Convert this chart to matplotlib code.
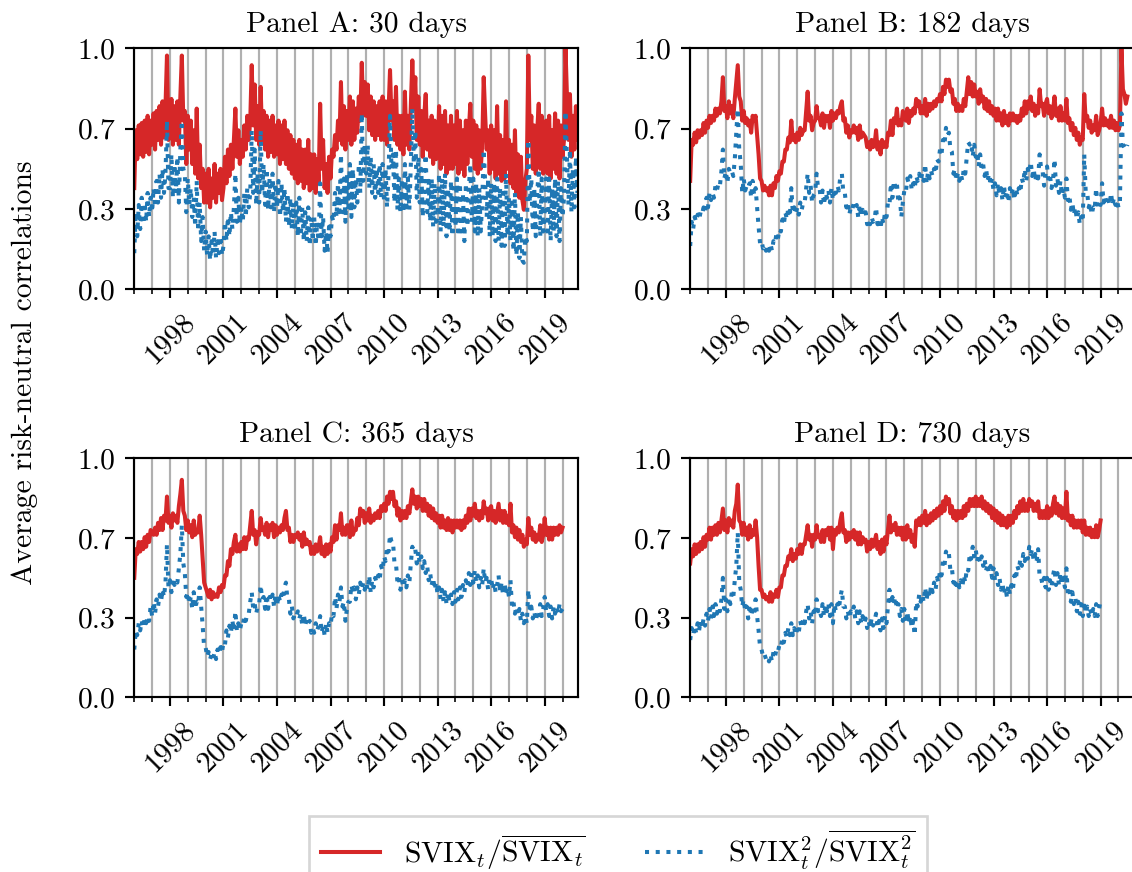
import matplotlib
matplotlib.use("Agg")
import matplotlib.pyplot as plt
import numpy as np
from matplotlib.ticker import FormatStrFormatter

# monthly readings, first value = January 1996, one row per year
svix_30 = [
    0.42, 0.66, 0.54, 0.68, 0.56, 0.69, 0.55, 0.70, 0.57, 0.72, 0.56, 0.70,
    0.60, 0.73, 0.58, 0.74, 0.62, 0.76, 0.60, 0.78, 0.63, 0.76, 0.97, 0.62,
    0.64, 0.79, 0.60, 0.76, 0.62, 0.78, 0.60, 0.80, 0.97, 0.70, 0.74, 0.52,
    0.72, 0.58, 0.70, 0.52, 0.66, 0.48, 0.75, 0.46, 0.60, 0.42, 0.50, 0.36,
    0.48, 0.36, 0.50, 0.34, 0.46, 0.38, 0.52, 0.36, 0.48, 0.40, 0.50, 0.37,
    0.42, 0.55, 0.44, 0.58, 0.47, 0.60, 0.50, 0.62, 0.75, 0.55, 0.66, 0.52,
    0.62, 0.55, 0.68, 0.58, 0.72, 0.62, 0.70, 0.93, 0.68, 0.85, 0.62, 0.76,
    0.60, 0.84, 0.62, 0.74, 0.58, 0.72, 0.55, 0.70, 0.57, 0.72, 0.55, 0.68,
    0.56, 0.70, 0.52, 0.68, 0.54, 0.70, 0.52, 0.66, 0.50, 0.64, 0.48, 0.62,
    0.46, 0.60, 0.44, 0.62, 0.45, 0.58, 0.42, 0.58, 0.44, 0.62, 0.41, 0.56,
    0.42, 0.56, 0.40, 0.54, 0.44, 0.77, 0.50, 0.62, 0.42, 0.52, 0.40, 0.55,
    0.46, 0.58, 0.55, 0.64, 0.58, 0.70, 0.62, 0.86, 0.60, 0.76, 0.58, 0.74,
    0.62, 0.80, 0.60, 0.78, 0.62, 0.75, 0.65, 0.80, 0.70, 0.94, 0.72, 0.86,
    0.72, 0.85, 0.66, 0.80, 0.64, 0.78, 0.62, 0.76, 0.64, 0.78, 0.62, 0.80,
    0.62, 0.78, 0.60, 0.74, 0.91, 0.70, 0.78, 0.62, 0.84, 0.60, 0.72, 0.58,
    0.72, 0.56, 0.82, 0.60, 0.72, 0.58, 0.76, 0.95, 0.75, 0.88, 0.62, 0.80,
    0.60, 0.74, 0.55, 0.72, 0.81, 0.58, 0.70, 0.55, 0.72, 0.52, 0.70, 0.54,
    0.56, 0.76, 0.50, 0.72, 0.52, 0.74, 0.48, 0.68, 0.50, 0.72, 0.50, 0.68,
    0.52, 0.74, 0.48, 0.70, 0.50, 0.66, 0.47, 0.70, 0.52, 0.66, 0.77, 0.55,
    0.70, 0.50, 0.68, 0.48, 0.66, 0.50, 0.60, 0.88, 0.72, 0.58, 0.66, 0.48,
    0.68, 0.50, 0.66, 0.46, 0.76, 0.48, 0.64, 0.45, 0.62, 0.46, 0.78, 0.50,
    0.62, 0.44, 0.60, 0.42, 0.66, 0.40, 0.56, 0.38, 0.55, 0.37, 0.33, 0.45,
    0.50, 0.97, 0.62, 0.72, 0.50, 0.68, 0.48, 0.66, 0.77, 0.50, 0.72, 0.48,
    0.60, 0.70, 0.48, 0.72, 0.46, 0.66, 0.50, 0.73, 0.48, 0.70, 0.46, 0.68,
    0.55, 0.62, 1.00, 0.80, 0.62, 0.81, 0.55, 0.72, 0.58, 0.76, 0.62,
]
svix2_30 = [
    0.15, 0.32, 0.22, 0.35, 0.25, 0.38, 0.27, 0.36, 0.28, 0.40, 0.30, 0.38,
    0.32, 0.42, 0.34, 0.45, 0.36, 0.48, 0.38, 0.50, 0.40, 0.48, 0.70, 0.42,
    0.42, 0.56, 0.38, 0.52, 0.40, 0.55, 0.36, 0.58, 0.70, 0.50, 0.48, 0.32,
    0.46, 0.35, 0.42, 0.30, 0.38, 0.26, 0.45, 0.24, 0.36, 0.20, 0.30, 0.16,
    0.24, 0.14, 0.22, 0.12, 0.20, 0.14, 0.24, 0.13, 0.20, 0.15, 0.22, 0.14,
    0.18, 0.28, 0.20, 0.30, 0.22, 0.32, 0.25, 0.34, 0.48, 0.28, 0.38, 0.27,
    0.34, 0.28, 0.40, 0.30, 0.42, 0.34, 0.40, 0.66, 0.40, 0.58, 0.35, 0.48,
    0.36, 0.66, 0.40, 0.52, 0.35, 0.50, 0.33, 0.46, 0.34, 0.48, 0.32, 0.44,
    0.34, 0.45, 0.30, 0.44, 0.32, 0.42, 0.28, 0.40, 0.26, 0.38, 0.25, 0.36,
    0.24, 0.36, 0.22, 0.38, 0.22, 0.34, 0.20, 0.32, 0.20, 0.34, 0.18, 0.30,
    0.20, 0.30, 0.18, 0.28, 0.20, 0.44, 0.22, 0.30, 0.16, 0.24, 0.15, 0.26,
    0.22, 0.30, 0.28, 0.40, 0.30, 0.44, 0.32, 0.56, 0.32, 0.46, 0.28, 0.48,
    0.34, 0.52, 0.30, 0.50, 0.34, 0.46, 0.36, 0.52, 0.40, 0.73, 0.45, 0.60,
    0.48, 0.60, 0.42, 0.55, 0.40, 0.52, 0.38, 0.50, 0.40, 0.52, 0.38, 0.52,
    0.36, 0.50, 0.34, 0.48, 0.72, 0.50, 0.56, 0.36, 0.58, 0.33, 0.46, 0.32,
    0.46, 0.32, 0.52, 0.34, 0.46, 0.33, 0.52, 0.75, 0.52, 0.66, 0.38, 0.55,
    0.36, 0.50, 0.30, 0.48, 0.56, 0.32, 0.45, 0.28, 0.46, 0.26, 0.44, 0.28,
    0.30, 0.48, 0.24, 0.46, 0.26, 0.48, 0.22, 0.42, 0.24, 0.45, 0.22, 0.42,
    0.26, 0.46, 0.22, 0.44, 0.24, 0.40, 0.20, 0.44, 0.26, 0.42, 0.52, 0.28,
    0.46, 0.24, 0.44, 0.22, 0.42, 0.24, 0.36, 0.58, 0.44, 0.30, 0.46, 0.22,
    0.44, 0.22, 0.44, 0.20, 0.46, 0.20, 0.42, 0.18, 0.40, 0.18, 0.48, 0.22,
    0.38, 0.20, 0.36, 0.16, 0.40, 0.14, 0.32, 0.13, 0.30, 0.12, 0.11, 0.22,
    0.20, 0.62, 0.36, 0.46, 0.24, 0.42, 0.22, 0.40, 0.50, 0.22, 0.46, 0.24,
    0.32, 0.46, 0.22, 0.46, 0.20, 0.42, 0.24, 0.46, 0.22, 0.45, 0.20, 0.42,
    0.30, 0.38, 0.74, 0.55, 0.35, 0.58, 0.32, 0.50, 0.34, 0.55, 0.40,
]

svix_182 = [
    0.45, 0.62, 0.60, 0.65, 0.61, 0.66, 0.63, 0.66, 0.64, 0.69, 0.65, 0.70,
    0.67, 0.72, 0.69, 0.72, 0.70, 0.75, 0.72, 0.75, 0.73, 0.78, 0.88, 0.74,
    0.76, 0.71, 0.78, 0.73, 0.76, 0.71, 0.79, 0.86, 0.93, 0.80, 0.78, 0.70,
    0.74, 0.69, 0.71, 0.68, 0.70, 0.65, 0.72, 0.70, 0.72, 0.64, 0.56, 0.46,
    0.45, 0.41, 0.43, 0.41, 0.42, 0.39, 0.43, 0.39, 0.44, 0.42, 0.47, 0.45,
    0.49, 0.48, 0.53, 0.53, 0.58, 0.58, 0.63, 0.61, 0.70, 0.62, 0.64, 0.61,
    0.65, 0.62, 0.67, 0.64, 0.66, 0.66, 0.74, 0.82, 0.70, 0.72, 0.66, 0.69,
    0.70, 0.76, 0.71, 0.71, 0.68, 0.73, 0.67, 0.72, 0.70, 0.72, 0.67, 0.74,
    0.70, 0.73, 0.71, 0.74, 0.73, 0.76, 0.78, 0.70, 0.71, 0.65, 0.68, 0.63,
    0.66, 0.65, 0.68, 0.65, 0.67, 0.62, 0.68, 0.63, 0.65, 0.64, 0.63, 0.59,
    0.61, 0.58, 0.62, 0.59, 0.60, 0.66, 0.58, 0.61, 0.56, 0.62, 0.59, 0.61,
    0.59, 0.65, 0.64, 0.70, 0.64, 0.71, 0.69, 0.75, 0.68, 0.70, 0.68, 0.74,
    0.72, 0.70, 0.75, 0.69, 0.74, 0.72, 0.75, 0.73, 0.79, 0.76, 0.78, 0.73,
    0.76, 0.73, 0.79, 0.72, 0.77, 0.74, 0.77, 0.75, 0.78, 0.76, 0.79, 0.78,
    0.81, 0.78, 0.84, 0.81, 0.87, 0.84, 0.87, 0.82, 0.83, 0.77, 0.79, 0.74,
    0.77, 0.74, 0.76, 0.74, 0.79, 0.76, 0.82, 0.88, 0.81, 0.86, 0.80, 0.85,
    0.80, 0.82, 0.77, 0.83, 0.78, 0.80, 0.75, 0.79, 0.74, 0.78, 0.73, 0.76,
    0.72, 0.75, 0.70, 0.75, 0.70, 0.73, 0.68, 0.74, 0.69, 0.72, 0.68, 0.73,
    0.70, 0.73, 0.70, 0.72, 0.69, 0.72, 0.70, 0.75, 0.72, 0.78, 0.73, 0.78,
    0.75, 0.80, 0.74, 0.77, 0.72, 0.76, 0.73, 0.83, 0.76, 0.77, 0.72, 0.77,
    0.79, 0.73, 0.76, 0.71, 0.74, 0.80, 0.72, 0.75, 0.70, 0.76, 0.70, 0.73,
    0.70, 0.79, 0.69, 0.71, 0.66, 0.69, 0.64, 0.67, 0.62, 0.65, 0.60, 0.63,
    0.62, 0.81, 0.70, 0.72, 0.67, 0.70, 0.65, 0.68, 0.66, 0.72, 0.64, 0.66,
    0.69, 0.75, 0.68, 0.71, 0.68, 0.70, 0.67, 0.72, 0.67, 0.70, 0.66, 0.69,
    0.66, 0.68, 1.00, 0.83, 0.81, 0.77, 0.80,
]
svix2_182 = [
    0.18, 0.28, 0.25, 0.30, 0.28, 0.31, 0.29, 0.32, 0.31, 0.34, 0.32, 0.38,
    0.34, 0.40, 0.37, 0.40, 0.38, 0.43, 0.41, 0.44, 0.43, 0.49, 0.58, 0.46,
    0.49, 0.44, 0.50, 0.48, 0.49, 0.47, 0.54, 0.65, 0.75, 0.58, 0.52, 0.40,
    0.46, 0.41, 0.43, 0.42, 0.44, 0.38, 0.45, 0.39, 0.42, 0.34, 0.26, 0.19,
    0.20, 0.17, 0.18, 0.16, 0.18, 0.16, 0.19, 0.16, 0.20, 0.19, 0.23, 0.21,
    0.25, 0.24, 0.29, 0.27, 0.32, 0.29, 0.34, 0.30, 0.42, 0.32, 0.34, 0.31,
    0.34, 0.31, 0.36, 0.33, 0.36, 0.36, 0.42, 0.48, 0.40, 0.43, 0.36, 0.39,
    0.40, 0.48, 0.42, 0.42, 0.36, 0.41, 0.35, 0.40, 0.38, 0.41, 0.36, 0.42,
    0.37, 0.42, 0.40, 0.43, 0.41, 0.47, 0.48, 0.40, 0.40, 0.34, 0.36, 0.31,
    0.34, 0.33, 0.36, 0.34, 0.35, 0.30, 0.35, 0.30, 0.33, 0.31, 0.32, 0.27,
    0.29, 0.27, 0.30, 0.28, 0.29, 0.34, 0.27, 0.29, 0.25, 0.30, 0.27, 0.32,
    0.30, 0.36, 0.35, 0.44, 0.38, 0.45, 0.42, 0.44, 0.36, 0.38, 0.30, 0.36,
    0.41, 0.40, 0.46, 0.44, 0.47, 0.41, 0.44, 0.42, 0.47, 0.45, 0.48, 0.45,
    0.48, 0.45, 0.52, 0.44, 0.49, 0.46, 0.49, 0.47, 0.50, 0.48, 0.54, 0.53,
    0.58, 0.56, 0.62, 0.60, 0.67, 0.64, 0.65, 0.58, 0.57, 0.48, 0.50, 0.45,
    0.48, 0.45, 0.48, 0.45, 0.50, 0.48, 0.55, 0.61, 0.60, 0.61, 0.55, 0.60,
    0.55, 0.57, 0.51, 0.56, 0.50, 0.52, 0.47, 0.50, 0.45, 0.48, 0.43, 0.46,
    0.41, 0.44, 0.39, 0.44, 0.39, 0.42, 0.37, 0.43, 0.38, 0.41, 0.36, 0.42,
    0.39, 0.42, 0.37, 0.42, 0.39, 0.42, 0.40, 0.46, 0.44, 0.50, 0.45, 0.50,
    0.48, 0.53, 0.47, 0.50, 0.45, 0.48, 0.46, 0.56, 0.50, 0.49, 0.43, 0.48,
    0.51, 0.45, 0.47, 0.42, 0.45, 0.54, 0.43, 0.46, 0.40, 0.45, 0.39, 0.42,
    0.38, 0.46, 0.37, 0.39, 0.33, 0.36, 0.31, 0.34, 0.29, 0.32, 0.27, 0.30,
    0.28, 0.56, 0.40, 0.40, 0.34, 0.36, 0.31, 0.34, 0.33, 0.42, 0.34, 0.36,
    0.35, 0.44, 0.36, 0.39, 0.36, 0.38, 0.35, 0.40, 0.35, 0.38, 0.35, 0.37,
    0.34, 0.36, 0.73, 0.60, 0.59, 0.58, 0.60,
]

svix_365 = [
    0.50, 0.62, 0.60, 0.65, 0.61, 0.65, 0.62, 0.67, 0.63, 0.68, 0.65, 0.70,
    0.69, 0.68, 0.71, 0.68, 0.73, 0.70, 0.75, 0.70, 0.76, 0.74, 0.84, 0.73,
    0.76, 0.71, 0.77, 0.74, 0.76, 0.73, 0.80, 0.85, 0.91, 0.78, 0.76, 0.70,
    0.74, 0.69, 0.72, 0.67, 0.74, 0.68, 0.70, 0.69, 0.76, 0.68, 0.58, 0.48,
    0.46, 0.44, 0.42, 0.45, 0.41, 0.44, 0.42, 0.43, 0.42, 0.46, 0.44, 0.47,
    0.46, 0.51, 0.51, 0.57, 0.55, 0.62, 0.60, 0.65, 0.68, 0.61, 0.64, 0.61,
    0.65, 0.62, 0.67, 0.62, 0.67, 0.66, 0.72, 0.78, 0.68, 0.70, 0.64, 0.69,
    0.68, 0.75, 0.70, 0.71, 0.68, 0.73, 0.67, 0.72, 0.70, 0.73, 0.67, 0.72,
    0.68, 0.71, 0.69, 0.72, 0.70, 0.75, 0.78, 0.70, 0.71, 0.65, 0.68, 0.65,
    0.68, 0.67, 0.69, 0.66, 0.68, 0.63, 0.69, 0.64, 0.66, 0.64, 0.65, 0.60,
    0.63, 0.60, 0.64, 0.61, 0.63, 0.67, 0.60, 0.63, 0.59, 0.64, 0.60, 0.64,
    0.61, 0.67, 0.65, 0.72, 0.66, 0.72, 0.70, 0.77, 0.68, 0.71, 0.68, 0.72,
    0.72, 0.67, 0.74, 0.68, 0.70, 0.70, 0.75, 0.72, 0.79, 0.76, 0.78, 0.73,
    0.77, 0.74, 0.79, 0.73, 0.76, 0.74, 0.77, 0.75, 0.78, 0.75, 0.80, 0.78,
    0.81, 0.78, 0.84, 0.81, 0.86, 0.83, 0.86, 0.80, 0.82, 0.76, 0.79, 0.74,
    0.78, 0.75, 0.78, 0.75, 0.80, 0.77, 0.82, 0.87, 0.81, 0.84, 0.79, 0.84,
    0.80, 0.83, 0.78, 0.83, 0.78, 0.81, 0.76, 0.80, 0.75, 0.79, 0.74, 0.77,
    0.73, 0.76, 0.71, 0.76, 0.71, 0.74, 0.70, 0.75, 0.70, 0.74, 0.69, 0.74,
    0.71, 0.74, 0.71, 0.74, 0.70, 0.74, 0.71, 0.76, 0.73, 0.79, 0.74, 0.79,
    0.76, 0.81, 0.75, 0.78, 0.74, 0.78, 0.75, 0.82, 0.77, 0.79, 0.74, 0.79,
    0.80, 0.74, 0.78, 0.73, 0.77, 0.81, 0.74, 0.78, 0.73, 0.78, 0.73, 0.76,
    0.72, 0.81, 0.69, 0.72, 0.67, 0.71, 0.66, 0.70, 0.65, 0.68, 0.63, 0.66,
    0.64, 0.75, 0.68, 0.71, 0.66, 0.69, 0.65, 0.68, 0.66, 0.72, 0.65, 0.68,
    0.75, 0.68, 0.71, 0.66, 0.71, 0.66, 0.71, 0.68, 0.71, 0.68, 0.72, 0.69,
    0.71,
]
svix2_365 = [
    0.20, 0.28, 0.26, 0.31, 0.28, 0.32, 0.29, 0.33, 0.31, 0.34, 0.32, 0.38,
    0.34, 0.40, 0.35, 0.41, 0.38, 0.43, 0.40, 0.45, 0.42, 0.48, 0.64, 0.46,
    0.49, 0.44, 0.50, 0.47, 0.49, 0.48, 0.54, 0.60, 0.72, 0.56, 0.52, 0.42,
    0.44, 0.39, 0.42, 0.37, 0.44, 0.37, 0.40, 0.39, 0.46, 0.38, 0.30, 0.21,
    0.21, 0.17, 0.19, 0.16, 0.18, 0.16, 0.19, 0.16, 0.20, 0.18, 0.21, 0.19,
    0.23, 0.22, 0.28, 0.25, 0.30, 0.27, 0.32, 0.28, 0.36, 0.28, 0.31, 0.28,
    0.31, 0.30, 0.34, 0.32, 0.35, 0.35, 0.40, 0.44, 0.37, 0.39, 0.35, 0.38,
    0.39, 0.47, 0.41, 0.42, 0.37, 0.43, 0.37, 0.42, 0.40, 0.43, 0.38, 0.43,
    0.38, 0.43, 0.40, 0.43, 0.41, 0.46, 0.48, 0.41, 0.41, 0.35, 0.38, 0.33,
    0.35, 0.34, 0.36, 0.33, 0.35, 0.30, 0.35, 0.30, 0.33, 0.31, 0.32, 0.27,
    0.29, 0.27, 0.31, 0.28, 0.30, 0.34, 0.27, 0.30, 0.26, 0.31, 0.27, 0.31,
    0.30, 0.35, 0.34, 0.42, 0.37, 0.43, 0.40, 0.46, 0.38, 0.40, 0.32, 0.37,
    0.40, 0.40, 0.47, 0.44, 0.46, 0.41, 0.46, 0.43, 0.48, 0.45, 0.48, 0.45,
    0.48, 0.45, 0.51, 0.44, 0.49, 0.46, 0.50, 0.48, 0.51, 0.49, 0.55, 0.53,
    0.59, 0.57, 0.63, 0.61, 0.68, 0.65, 0.65, 0.56, 0.56, 0.48, 0.50, 0.45,
    0.49, 0.46, 0.49, 0.46, 0.51, 0.48, 0.56, 0.63, 0.61, 0.62, 0.56, 0.61,
    0.56, 0.59, 0.54, 0.57, 0.52, 0.55, 0.49, 0.52, 0.47, 0.50, 0.45, 0.48,
    0.43, 0.46, 0.41, 0.45, 0.40, 0.44, 0.39, 0.44, 0.40, 0.43, 0.39, 0.44,
    0.40, 0.45, 0.41, 0.46, 0.42, 0.47, 0.44, 0.49, 0.46, 0.52, 0.47, 0.52,
    0.48, 0.53, 0.48, 0.51, 0.46, 0.50, 0.47, 0.54, 0.48, 0.50, 0.45, 0.50,
    0.50, 0.45, 0.48, 0.44, 0.47, 0.51, 0.44, 0.48, 0.43, 0.48, 0.43, 0.46,
    0.42, 0.49, 0.38, 0.40, 0.35, 0.38, 0.34, 0.37, 0.32, 0.35, 0.31, 0.34,
    0.31, 0.45, 0.36, 0.38, 0.33, 0.36, 0.32, 0.35, 0.33, 0.39, 0.34, 0.37,
    0.42, 0.36, 0.39, 0.34, 0.38, 0.33, 0.38, 0.35, 0.38, 0.35, 0.39, 0.36,
    0.37,
]

svix_730 = [
    0.56, 0.62, 0.59, 0.64, 0.60, 0.64, 0.61, 0.65, 0.62, 0.67, 0.63, 0.68,
    0.66, 0.71, 0.66, 0.71, 0.68, 0.72, 0.68, 0.73, 0.69, 0.74, 0.79, 0.70,
    0.74, 0.69, 0.75, 0.72, 0.74, 0.71, 0.78, 0.81, 0.89, 0.74, 0.73, 0.68,
    0.73, 0.68, 0.71, 0.66, 0.72, 0.67, 0.70, 0.68, 0.74, 0.67, 0.55, 0.45,
    0.45, 0.42, 0.43, 0.41, 0.42, 0.40, 0.44, 0.40, 0.43, 0.42, 0.45, 0.42,
    0.46, 0.46, 0.51, 0.51, 0.55, 0.55, 0.59, 0.58, 0.62, 0.57, 0.60, 0.58,
    0.62, 0.60, 0.64, 0.60, 0.64, 0.64, 0.68, 0.72, 0.66, 0.68, 0.63, 0.68,
    0.66, 0.72, 0.67, 0.68, 0.65, 0.70, 0.65, 0.70, 0.68, 0.71, 0.66, 0.71,
    0.62, 0.70, 0.68, 0.71, 0.69, 0.74, 0.77, 0.69, 0.70, 0.65, 0.69, 0.66,
    0.69, 0.67, 0.70, 0.66, 0.69, 0.64, 0.69, 0.64, 0.67, 0.65, 0.66, 0.61,
    0.65, 0.62, 0.66, 0.63, 0.65, 0.68, 0.62, 0.65, 0.60, 0.66, 0.61, 0.67,
    0.64, 0.70, 0.76, 0.69, 0.72, 0.70, 0.73, 0.68, 0.71, 0.68, 0.71, 0.66,
    0.71, 0.66, 0.72, 0.67, 0.70, 0.65, 0.68, 0.63, 0.74, 0.72, 0.75, 0.72,
    0.76, 0.73, 0.78, 0.72, 0.76, 0.73, 0.77, 0.74, 0.78, 0.75, 0.79, 0.76,
    0.80, 0.77, 0.82, 0.78, 0.84, 0.81, 0.83, 0.77, 0.80, 0.75, 0.78, 0.74,
    0.78, 0.75, 0.78, 0.75, 0.80, 0.76, 0.81, 0.78, 0.83, 0.80, 0.83, 0.80,
    0.84, 0.80, 0.83, 0.80, 0.84, 0.79, 0.82, 0.78, 0.81, 0.77, 0.80, 0.75,
    0.79, 0.74, 0.78, 0.73, 0.77, 0.72, 0.76, 0.72, 0.75, 0.71, 0.76, 0.72,
    0.76, 0.73, 0.78, 0.75, 0.80, 0.77, 0.82, 0.78, 0.83, 0.78, 0.81, 0.78,
    0.83, 0.80, 0.82, 0.78, 0.81, 0.78, 0.82, 0.75, 0.78, 0.75, 0.78, 0.75,
    0.80, 0.75, 0.79, 0.76, 0.81, 0.84, 0.77, 0.81, 0.76, 0.80, 0.75, 0.79,
    0.75, 0.86, 0.74, 0.76, 0.72, 0.76, 0.71, 0.74, 0.71, 0.74, 0.71, 0.74,
    0.69, 0.74, 0.68, 0.71, 0.68, 0.71, 0.67, 0.70, 0.67, 0.72, 0.67, 0.70,
    0.74,
]
svix2_730 = [
    0.24, 0.29, 0.26, 0.30, 0.27, 0.31, 0.28, 0.32, 0.29, 0.33, 0.30, 0.35,
    0.32, 0.37, 0.33, 0.38, 0.34, 0.39, 0.35, 0.38, 0.36, 0.41, 0.50, 0.37,
    0.41, 0.36, 0.42, 0.39, 0.44, 0.42, 0.49, 0.55, 0.69, 0.48, 0.45, 0.38,
    0.41, 0.36, 0.38, 0.33, 0.39, 0.34, 0.37, 0.35, 0.41, 0.34, 0.28, 0.21,
    0.20, 0.17, 0.18, 0.16, 0.17, 0.15, 0.18, 0.15, 0.19, 0.17, 0.20, 0.19,
    0.22, 0.21, 0.25, 0.23, 0.27, 0.25, 0.29, 0.26, 0.31, 0.26, 0.29, 0.26,
    0.29, 0.27, 0.32, 0.29, 0.33, 0.31, 0.36, 0.39, 0.33, 0.36, 0.31, 0.36,
    0.34, 0.41, 0.36, 0.37, 0.34, 0.39, 0.34, 0.39, 0.36, 0.39, 0.34, 0.39,
    0.31, 0.39, 0.36, 0.39, 0.37, 0.42, 0.45, 0.38, 0.38, 0.33, 0.36, 0.33,
    0.36, 0.35, 0.38, 0.33, 0.36, 0.31, 0.36, 0.31, 0.34, 0.31, 0.33, 0.29,
    0.32, 0.29, 0.33, 0.30, 0.32, 0.35, 0.29, 0.32, 0.28, 0.33, 0.29, 0.34,
    0.31, 0.38, 0.45, 0.39, 0.42, 0.39, 0.42, 0.37, 0.39, 0.34, 0.37, 0.32,
    0.37, 0.31, 0.36, 0.31, 0.34, 0.29, 0.32, 0.26, 0.40, 0.38, 0.43, 0.40,
    0.43, 0.40, 0.46, 0.41, 0.45, 0.42, 0.47, 0.44, 0.48, 0.45, 0.50, 0.48,
    0.53, 0.51, 0.57, 0.55, 0.61, 0.59, 0.60, 0.53, 0.54, 0.48, 0.50, 0.45,
    0.49, 0.46, 0.49, 0.46, 0.51, 0.48, 0.54, 0.53, 0.60, 0.58, 0.63, 0.59,
    0.62, 0.57, 0.60, 0.56, 0.59, 0.55, 0.58, 0.53, 0.56, 0.52, 0.55, 0.50,
    0.54, 0.49, 0.52, 0.47, 0.50, 0.45, 0.48, 0.43, 0.46, 0.42, 0.47, 0.43,
    0.47, 0.45, 0.51, 0.49, 0.55, 0.53, 0.58, 0.55, 0.60, 0.57, 0.60, 0.58,
    0.63, 0.60, 0.62, 0.57, 0.60, 0.57, 0.62, 0.50, 0.50, 0.47, 0.50, 0.46,
    0.50, 0.45, 0.49, 0.46, 0.51, 0.54, 0.47, 0.52, 0.47, 0.52, 0.47, 0.50,
    0.46, 0.54, 0.43, 0.45, 0.40, 0.44, 0.39, 0.42, 0.36, 0.40, 0.35, 0.39,
    0.34, 0.40, 0.35, 0.38, 0.34, 0.37, 0.34, 0.37, 0.34, 0.39, 0.34, 0.37,
    0.41,
]

panel_titles = ["Panel A: 30 days", "Panel B: 182 days",
                "Panel C: 365 days", "Panel D: 730 days"]
panel_series = [(svix_30, svix2_30), (svix_182, svix2_182),
                (svix_365, svix2_365), (svix_730, svix2_730)]
label_svix = r"$\mathrm{SVIX}_t/\overline{\mathrm{SVIX}_t}$"
label_svix2 = r"$\mathrm{SVIX}_t^2/\overline{\mathrm{SVIX}_t^2}$"

START_YEAR = 1996
X_END = 2020.88

plt.rcParams["font.family"] = "cmr10"
plt.rcParams["mathtext.fontset"] = "cm"
plt.rcParams["axes.formatter.use_mathtext"] = True
plt.rcParams["font.size"] = 11
plt.rcParams["axes.titlesize"] = 11

DPI = 194
fig = plt.figure(figsize=(1132 / DPI, 872 / DPI), dpi=DPI)

# [left, bottom, width, height] in figure fraction
boxes = [
    [0.1186, 0.6682, 0.3922, 0.2764],
    [0.6097, 0.6682, 0.3922, 0.2764],
    [0.1186, 0.2003, 0.3922, 0.2741],
    [0.6097, 0.2003, 0.3922, 0.2741],
]

for box, title, (s1, s2) in zip(boxes, panel_titles, panel_series):
    ax = fig.add_axes(box)
    t = START_YEAR + np.arange(len(s1)) / 12.0
    ax.plot(t, s1, color="tab:red", lw=1.5, label=label_svix)
    ax.plot(t, s2, color="tab:blue", lw=1.5, ls=":", label=label_svix2)
    ax.set_xlim(START_YEAR, X_END)
    ax.set_ylim(0, 1)
    ax.set_yticks(np.linspace(0, 1, 4))
    ax.yaxis.set_major_formatter(FormatStrFormatter("%.1f"))
    ax.set_xticks(range(1998, 2020, 3))
    ax.set_xticks(range(1996, 2021), minor=True)
    ax.xaxis.set_major_formatter(FormatStrFormatter("%d"))
    ax.tick_params(axis="x", labelrotation=45)
    ax.grid(True, which="both", axis="x", color="#b0b0b0", lw=0.8)
    ax.set_axisbelow(True)
    ax.set_title(title)

handles, labels = ax.get_legend_handles_labels()
fig.legend(handles, labels, loc="upper center", ncol=2,
           bbox_to_anchor=(0.546, 1 - 816 / 872), borderaxespad=0,
           fancybox=False)
fig.text(0.022, 0.573, "Average risk-neutral correlations",
         rotation=90, ha="center", va="center")

fig.savefig("out.png", dpi=DPI)
